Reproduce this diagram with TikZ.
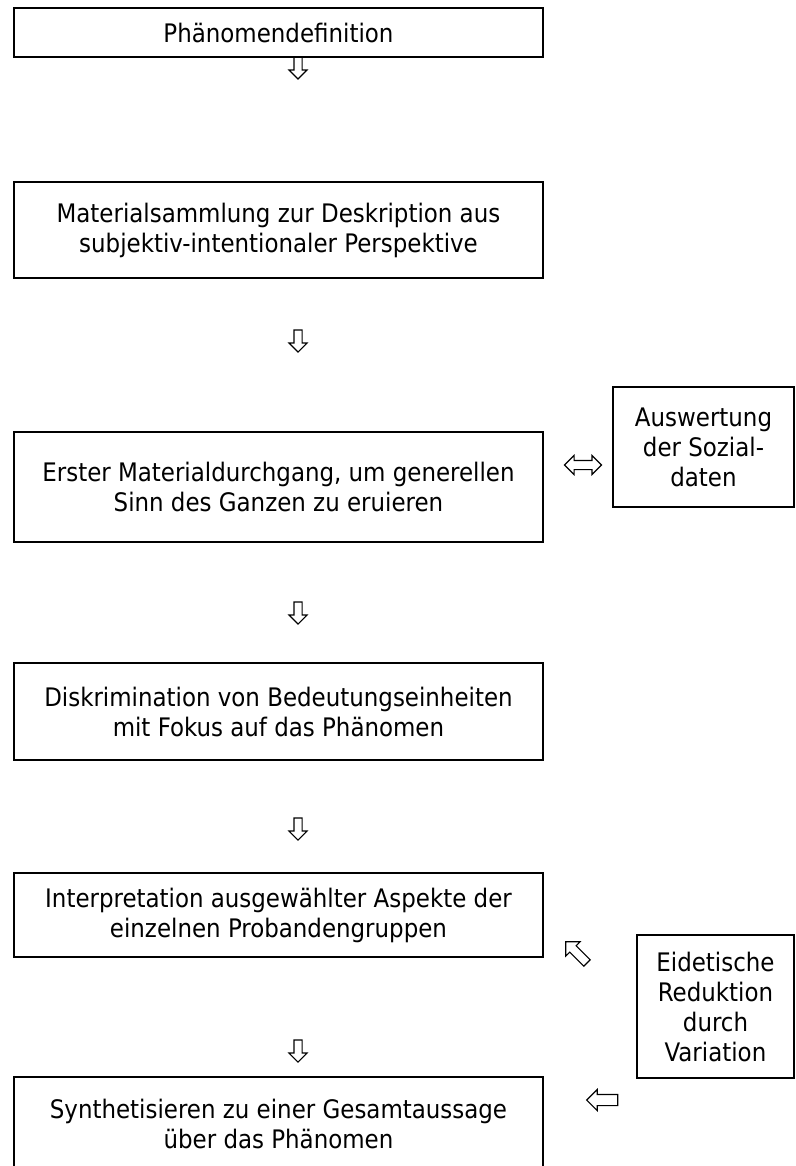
\documentclass[tikz,border=0pt]{standalone}
\usepackage{fontspec}
\setmainfont{DejaVu Sans Condensed}
\usetikzlibrary{shapes.arrows}
\newcommand{\tikzHollowArrow}[3]{
  \node[hollow arrow,rotate=#3] (#1) at (#2) {};
}

\begin{document}
\begin{tikzpicture}[x=1pt, y=-1pt,
  box/.style={draw,line width=1.7pt,align=center,inner sep=0pt,font=\fontsize{25.5}{30}\selectfont},
  hollow arrow/.style={single arrow,draw,line width=1.1pt,inner sep=3.5pt,minimum height=22pt,single arrow head extend=5pt}]
  \useasboundingbox (0,0) rectangle (795,1166);

  \node [box,minimum width=529pt,minimum height=49pt]  (def) at (278.5, 32.5) {Phänomendefinition};
  \node [box,minimum width=529pt,minimum height=96pt]  (sammlung) at (278.5, 230) {Materialsammlung zur Deskription aus\\subjektiv-intentionaler Perspektive};
  \node [box,minimum width=529pt,minimum height=110pt] (durchgang) at (278.5, 487) {Erster Materialdurchgang, um generellen\\Sinn des Ganzen zu eruieren};
  \node [box,minimum width=529pt,minimum height=97pt]  (diskr) at (278.5, 711.5) {Diskrimination von Bedeutungseinheiten\\mit Fokus auf das Phänomen};
  \node [box,minimum width=529pt,minimum height=84pt]  (interp) at (278.5, 915) {Interpretation ausgewählter Aspekte der\\einzelnen Probandengruppen};
  \node [box,minimum width=529pt,minimum height=94pt]  (synth) at (278.5, 1124) {Synthetisieren zu einer Gesamtaussage\\über das Phänomen};

  \node [box,minimum width=181pt,minimum height=120pt] (sozial) at (703.5, 447) {Auswertung\\der Sozial-\\daten};
  \node [box,minimum width=157pt,minimum height=143pt] (eidetik) at (715.5, 1006.5) {Eidetische\\Reduktion\\durch\\Variation};

  % Pfeile zwischen den Schritten
  \tikzHollowArrow{a1}{298,66}{-90}
  \tikzHollowArrow{a2}{298,339}{-90}
  \tikzHollowArrow{a3}{298,611}{-90}
  \tikzHollowArrow{a4}{298,827}{-90}
  \tikzHollowArrow{a5}{298,1049}{-90}

  \node [double arrow,draw,line width=1.1pt,inner sep=4pt,minimum height=37pt,double arrow head extend=5pt] (wechsel) at (583, 465) {};
  \node [hollow arrow,inner sep=4pt,minimum height=30pt,single arrow head extend=5.5pt,rotate=135] (zurueck) at (578, 954) {};
  \node [hollow arrow,inner sep=5pt,minimum height=31pt,single arrow head extend=5pt,rotate=180] (links) at (605, 1100) {};

\end{tikzpicture}
\end{document}
